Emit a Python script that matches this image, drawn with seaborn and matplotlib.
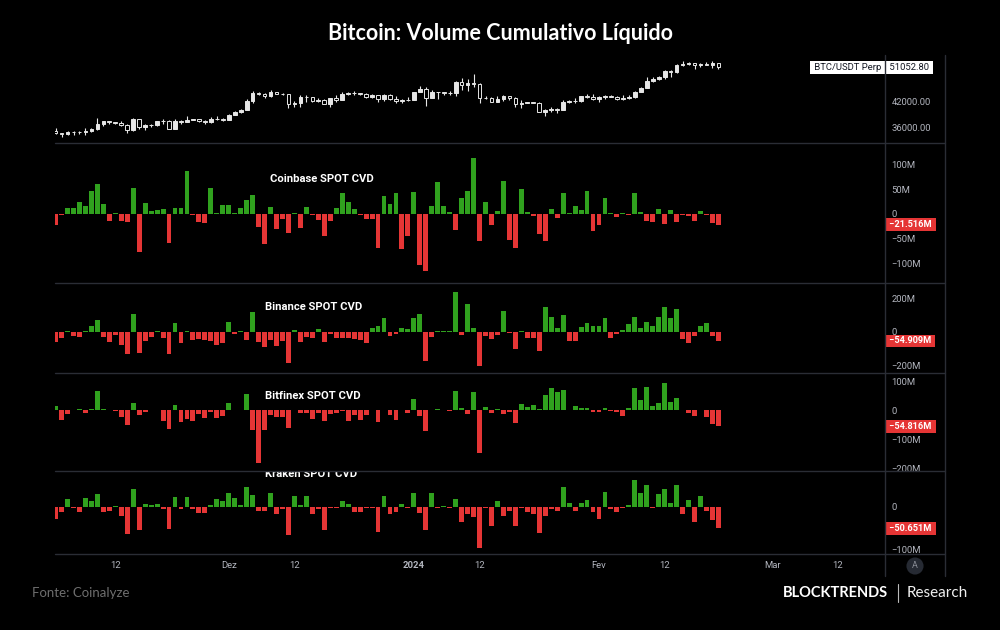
import matplotlib
matplotlib.use("Agg")
import numpy as np
import pandas as pd
import matplotlib.pyplot as plt
import seaborn as sns
from matplotlib.lines import Line2D
from matplotlib.ticker import NullLocator, FixedLocator

sns.set_theme(style="dark")
plt.rcParams['font.family'] = ['Roboto', 'DejaVu Sans']

# ---------------- data ----------------
dates = pd.date_range("2023-11-02", "2024-02-21", freq="D")

price_open = [35420, 34940, 34730, 35080, 35050, 35050, 35420, 35630, 36700, 37320,
              37140, 37060, 36500, 35550, 37880, 36160, 36600, 36580, 37380, 37460,
              35810, 37420, 37290, 37720, 37790, 37480, 37250, 37830, 37850, 37720,
              38690, 39460, 39970, 41980, 44080, 43770, 43290, 44170, 43720, 43790,
              41240, 41450, 42890, 43020, 41930, 42240, 41360, 42660, 42260, 43650,
              43870, 43990, 43720, 43010, 43580, 42510, 43440, 42580, 42070, 42140,
              42280, 44180, 44950, 42840, 44150, 44160, 43970, 43930, 46970, 46120,
              46660, 46340, 42780, 42840, 41730, 42510, 43140, 42770, 41260, 41620,
              41670, 41560, 39530, 39840, 40080, 39930, 41820, 42120, 42030, 43300,
              42940, 42580, 43080, 43190, 43000, 42580, 42660, 43090, 44340, 45290,
              47130, 47750, 48290, 49950, 49700, 51800, 51930, 52160, 51660, 52120,
              51780, 52280]
price_high = [35980, 34950, 35260, 35380, 35280, 35900, 35990, 37970, 37510, 37400,
              37220, 37420, 36760, 37970, 37930, 36840, 36860, 37520, 37760, 37650,
              37870, 37640, 38420, 37890, 37840, 37590, 38370, 38420, 38150, 38970,
              39680, 40190, 42420, 44460, 44290, 44050, 44700, 44360, 44040, 43800,
              42100, 43430, 43400, 43090, 42710, 42430, 42760, 43490, 44280, 44240,
              44400, 44000, 43960, 43790, 43600, 43680, 43800, 43140, 42600, 42890,
              44200, 45880, 45500, 44750, 44350, 44230, 44490, 47250, 47900, 47680,
              48970, 46500, 43250, 43080, 43330, 43570, 43200, 42930, 42180, 41850,
              41870, 41650, 40130, 40520, 40300, 42220, 42190, 42840, 43300, 43840,
              43740, 43280, 43470, 43380, 43110, 43540, 43390, 44370, 45590, 48160,
              48180, 48590, 50330, 50370, 52040, 52820, 52570, 52180, 52360, 52490,
              52980, 52380]
price_low = [34750, 34100, 34580, 34540, 34740, 34530, 35120, 35540, 36340, 36780,
             36750, 36350, 34950, 35370, 35670, 35530, 36180, 36400, 36700, 35750,
             35640, 36870, 37260, 37600, 37150, 36720, 36900, 37600, 37500, 37620,
             38650, 39270, 39970, 41420, 43360, 42840, 43080, 43620, 43590, 40260,
             40680, 40660, 41790, 41680, 41700, 41260, 40530, 41800, 42200, 43400,
             43420, 43550, 42820, 42760, 41680, 42100, 42330, 41450, 41520, 41980,
             42180, 44150, 40750, 42630, 42480, 43400, 43560, 43200, 44740, 44370,
             45600, 41500, 42430, 41720, 41720, 42050, 42200, 40650, 40280, 41450,
             41500, 39430, 38550, 39500, 39280, 39830, 41410, 41630, 41820, 42700,
             42330, 41880, 42590, 42880, 42220, 42260, 42580, 42780, 44330, 45250,
             46800, 47550, 47710, 48300, 49270, 51330, 51600, 50620, 51180, 51650,
             50780, 50650]
price_close = [34940, 34730, 35080, 35050, 35050, 35420, 35630, 36700, 37320, 37140,
               37060, 36500, 35550, 37880, 36160, 36600, 36580, 37380, 37460, 35810,
               37420, 37290, 37720, 37790, 37480, 37250, 37830, 37850, 37720, 38690,
               39460, 39970, 41980, 44080, 43770, 43290, 44170, 43720, 43790, 41240,
               41450, 42890, 43020, 41930, 42240, 41360, 42660, 42260, 43650, 43870,
               43990, 43720, 43010, 43580, 42510, 43440, 42580, 42070, 42140, 42280,
               44180, 44950, 42840, 44150, 44160, 43970, 43930, 46970, 46120, 46660,
               46340, 42780, 42840, 41730, 42510, 43140, 42770, 41260, 41620, 41670,
               41560, 39530, 39840, 40080, 39930, 41820, 42120, 42030, 43300, 42940,
               42580, 43080, 43190, 43000, 42580, 42660, 43090, 44340, 45290, 47130,
               47750, 48290, 49950, 49700, 51800, 51930, 52160, 51660, 52120, 51780,
               52280, 51052.80]

coinbase_cvd = [-22, -3, 13, 13, 25, 16, 46, 61, 20, -14,
                3, -14, -17, 52, -76, 22, 6, 9, 10, -59,
                13, 12, 87, -2, -17, -19, 52, 2, 18, 18,
                2, 13, 28, 38, -26, -60, 15, -30, -11, -38,
                2, -28, 15, -3, -13, -44, -15, 13, 42, 24,
                10, -3, -10, -11, -69, 37, 20, 42, -71, -45,
                44, -103, -116, 17, 64, 16, 5, -32, 32, 47,
                114, -54, 24, -22, 6, 67, -52, -69, 50, 5,
                -5, -41, -55, 10, -8, 42, 2, 17, 9, 47,
                -35, -22, 32, 1, -7, 3, -3, 42, 4, -14,
                -17, 10, -20, 9, -17, -3, -5, -14, 7, -3,
                -19, -21.516]
binance_cvd = [-64, -36, 6, -24, -34, 2, 32, 68, -32, -64,
               -20, -82, -130, 108, -124, -54, -34, 4, -40, -134,
               50, -68, 6, -50, -44, -50, -54, -78, -68, 60,
               -16, 4, -50, 116, -60, -90, -50, -86, -54, -186,
               10, -64, -30, -40, 14, -64, -16, -36, -36, -40,
               -44, -52, -66, 24, 32, 80, -24, -14, 22, 14,
               80, 106, -174, -32, 2, 2, 6, 236, -20, 164,
               24, -204, -28, -46, -20, 124, -10, -102, 6, -40,
               -36, -116, 150, 90, 20, 98, -54, -54, 28, 54,
               32, 32, 80, -36, -14, 10, 44, 90, 20, 58,
               32, 86, 150, 80, 138, -46, -66, -24, 32, 50,
               -24, -54.909]
bitfinex_cvd = [14, -34, -13, 2, 6, -8, 4, 67, 6, 2,
                -3, -23, -52, 24, -17, -6, 3, 3, -36, -63,
                20, -41, -29, -36, -12, -26, -5, -26, -20, 27,
                3, 2, 57, -66, -181, -66, -15, -23, -23, -59,
                3, -8, -8, -28, -8, -36, -13, -8, -2, -38,
                -15, -34, -15, 3, -41, 1, -17, -34, 2, -10,
                41, -19, -72, 3, 6, 1, -3, 68, 10, -13,
                64, -147, 13, -10, 6, -13, -5, -43, 23, 13,
                17, 6, 52, 78, 63, 70, 1, 14, 8, 10,
                -6, -6, 10, -3, -6, -19, 10, 78, 36, 80,
                14, 27, 93, 29, 44, 3, -10, -19, 1, -23,
                -46, -54.816]
kraken_cvd = [-28, -13, 18, -3, -13, 20, 13, 29, -13, -9,
              2, -21, -64, 41, -54, 6, 3, 6, -6, -52,
              22, -6, 22, -5, -15, -15, 3, 17, 13, 32,
              20, 5, 45, 28, -9, -9, 31, -17, -5, -66,
              25, 4, 24, -17, -5, -54, -2, -3, 13, 6,
              -12, -13, -2, -2, -59, 25, -17, -12, 6, -3,
              31, -15, -54, 32, -2, 2, -2, 17, -36, -17,
              -24, -96, -2, -44, 13, -21, -9, -44, -2, -13,
              -17, -62, -22, -5, -9, 46, 9, -10, 9, 15,
              -12, -28, 34, -6, -12, -2, 3, 63, 32, 50,
              -3, 29, 42, 8, 50, -17, 15, -36, 24, -10,
              -32, -50.651]

panel_titles = ["Coinbase SPOT CVD", "Binance SPOT CVD", "Bitfinex SPOT CVD", "Kraken SPOT CVD"]
price_ticks = [36000, 42000]
tick_dates = ["2023-11-12", "2023-12-01", "2023-12-12", "2024-01-01", "2024-01-12",
              "2024-02-01", "2024-02-12", "2024-03-01", "2024-03-12"]
tick_labels = ["12", "Dez", "12", "2024", "12", "Fev", "12", "Mar", "12"]
view_end_date = "2024-03-20"
title = "Bitcoin: Volume Cumulativo Líquido"
symbol = "BTC/USDT Perp"

# ---------------- style ----------------
BG = "#000000"
GREEN = "#30a11e"
RED = "#e53535"
CANDLE = "#e6e6e6"
LINE = "#2a2d35"
TXT = "#b2b5be"
W, H = 1000, 630

fig = plt.figure(figsize=(10, 6.3), dpi=100, facecolor=BG)


def px_axes(x0, y0, x1, y1):
    return fig.add_axes([x0 / W, 1 - y1 / H, (x1 - x0) / W, (y1 - y0) / H])


def minus(s):
    return s.replace("-", "\u2212")


def fmt_m(v, nd=0):
    if v == 0:
        return "0"
    return minus(f"{v:.{nd}f}M")


x_idx = np.arange(len(dates))
tick_pos = [(pd.Timestamp(d) - dates[0]).days for d in tick_dates]
x_left = -0.1
x_right = (pd.Timestamp(view_end_date) - dates[0]).days - 0.1


def style_ax(ax):
    ax.set_facecolor(BG)
    for s in ax.spines.values():
        s.set_visible(False)
    ax.grid(False)
    ax.yaxis.tick_right()
    ax.tick_params(axis="y", which="both", length=0, labelsize=6.8, labelcolor=TXT, pad=4.8)
    ax.tick_params(axis="x", which="both", length=0, labelsize=6.8, labelcolor=TXT, pad=5)
    ax.set_xlabel("")
    ax.set_ylabel("")
    ax.set_xlim(x_left, x_right)


# ---------------- price panel ----------------
pax = px_axes(55, 55, 885, 142.7)
o = np.array(price_open, float)
c = np.array(price_close, float)
hi = np.array(price_high, float)
lo = np.array(price_low, float)
up = c >= o
pax.vlines(x_idx, lo, hi, color=CANDLE, lw=0.8, zorder=1)
pax.bar(x_idx[up], (c - o)[up], bottom=o[up], width=0.62, color=CANDLE,
        edgecolor=CANDLE, linewidth=0.7, zorder=2)
pax.bar(x_idx[~up], (o - c)[~up], bottom=c[~up], width=0.62, color=BG,
        edgecolor=CANDLE, linewidth=0.7, zorder=2)
pax.set_yscale("log")
pax.set_ylim(33013, 54780)
style_ax(pax)
pax.yaxis.set_major_locator(FixedLocator(price_ticks))
pax.yaxis.set_minor_locator(NullLocator())
pax.set_yticklabels([f"{t:.2f}" for t in price_ticks])
pax.set_xticks([])
pax.annotate(f" {price_close[-1]:.2f} ", xy=(1, price_close[-1]),
             xycoords=pax.get_yaxis_transform(), xytext=(1.5, 0), textcoords="offset points",
             ha="left", va="center", fontsize=6.8, color="#131722",
             bbox=dict(boxstyle="square,pad=0.2", fc="white", ec="none"), annotation_clip=False)
pax.annotate(f" {symbol} ", xy=(1, price_close[-1]),
             xycoords=pax.get_yaxis_transform(), xytext=(-1.0, 0), textcoords="offset points",
             ha="right", va="center", fontsize=6.8, color="#131722",
             bbox=dict(boxstyle="square,pad=0.2", fc="white", ec="none"), annotation_clip=False)

# ---------------- CVD panels ----------------
panels = [
    (coinbase_cvd, (142.7, 283.3), (-140, 144), [100, 50, 0, -50, -100], 0.742, 0.321),
    (binance_cvd, (283.3, 373.3), (-248, 289), [200, 0, -200], 0.737, 0.311),
    (bitfinex_cvd, (373.3, 471.0), (-209, 128), [100, 0, -100, -200], 0.768, 0.311),
    (kraken_cvd, (471.0, 554.3), (-111.4, 83.6), [0, -100], 0.958, 0.308),
]

axes = []
for k, (vals, (y0, y1), ylim, yt, ty, tx) in enumerate(panels):
    ax = px_axes(55, y0, 885, y1)
    df = pd.DataFrame({"day": x_idx, "cvd": vals,
                       "side": np.where(np.array(vals) >= 0, "buy", "sell")})
    sns.barplot(data=df, x="day", y="cvd", hue="side",
                palette={"buy": GREEN, "sell": RED}, dodge=False, width=0.82,
                saturation=1, errorbar=None, legend=False, edgecolor="none",
                linewidth=0, ax=ax)
    style_ax(ax)
    ax.set_ylim(*ylim)
    ax.set_yticks(yt)
    ax.set_yticklabels([fmt_m(v) for v in yt])
    ax.text(tx, ty, panel_titles[k], transform=ax.transAxes, ha="center", va="center",
            fontsize=8.1, fontweight="bold", color="white", clip_on=True)
    last = vals[-1]
    ax.annotate(f" {fmt_m(last, 3)} ", xy=(1, last), xycoords=ax.get_yaxis_transform(),
                xytext=(1.5, 0), textcoords="offset points", ha="left", va="center",
                fontsize=6.6, fontweight="bold", color="white",
                bbox=dict(boxstyle="square,pad=0.2", fc=RED, ec="none"),
                annotation_clip=False)
    if k < 3:
        ax.set_xticks([])
    else:
        ax.set_xticks(tick_pos)
        ax.set_xticklabels(tick_labels)
        for lab in ax.get_xticklabels():
            if lab.get_text() == "2024":
                lab.set_fontweight("bold")
    ax.set_xlim(x_left, x_right)
    axes.append(ax)

# ---------------- frame lines ----------------
for y in [142.7, 283.3, 373.3, 471.0, 554.3]:
    fig.add_artist(Line2D([55 / W, 945 / W], [1 - y / H] * 2, color=LINE, lw=1.0, zorder=10))
for x in [885, 945]:
    fig.add_artist(Line2D([x / W] * 2, [1 - 55 / H, 1 - 576 / H], color=LINE, lw=1.0, zorder=10))

fig.text(915 / W, 1 - 566 / H, "A", ha="center", va="center", fontsize=6.5, color="#8a8d96",
         bbox=dict(boxstyle="circle,pad=0.45", fc="#262a33", ec="none"))

# ---------------- titles / footer ----------------
fig.text(0.5, 1 - 33 / H, title, ha="center", va="center", fontsize=15.5,
         fontweight="bold", color="white", family=["Lato", "DejaVu Sans"])
fig.text(32 / W, 1 - 593 / H, "Fonte: Coinalyze", ha="left", va="center", fontsize=9.5,
         color="#6e6e6e", family=["Lato", "DejaVu Sans"])
fig.text(888 / W, 1 - 593 / H, "BLOCKTRENDS", ha="right", va="center", fontsize=10.5,
         fontweight="bold", color="white", family=["Lato", "DejaVu Sans"])
fig.add_artist(Line2D([898 / W] * 2, [1 - 584 / H, 1 - 602 / H], color="#bbbbbb", lw=0.8))
fig.text(907 / W, 1 - 593 / H, "Research", ha="left", va="center", fontsize=11,
         color="#f0f0f0", family=["Lato", "DejaVu Sans"])

fig.savefig("out.png", dpi=100, facecolor=BG)
